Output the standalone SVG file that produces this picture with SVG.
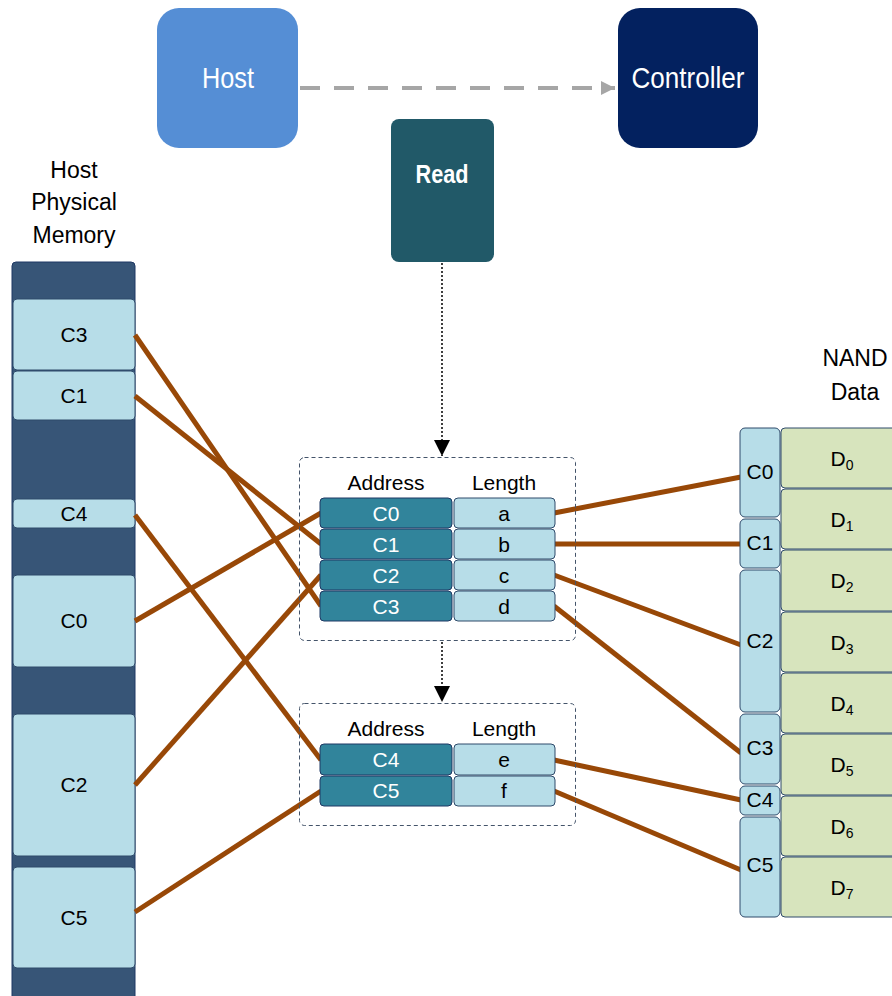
<svg xmlns="http://www.w3.org/2000/svg" width="892" height="996" viewBox="0 0 892 996">
<defs>
<style>
.t{font-family:"Liberation Sans",Arial,sans-serif;font-size:21px;fill:#000;text-anchor:middle}
.tw{fill:#fff}
.n{font-family:"Liberation Sans",Arial,sans-serif;text-anchor:middle;fill:#fff}
.cell{fill:#B7DDE8;stroke:#2E4A6B;stroke-width:1}
.addr{fill:#31849B;stroke:#1F3864;stroke-width:1}
.dat{fill:#D7E4BD;stroke:#2E4A6B;stroke-width:1}
.lnk{stroke:#984807;stroke-width:5;fill:none}
.dbox{fill:none;stroke:#44546A;stroke-width:1;stroke-dasharray:4,3}
.dot{stroke:#000;stroke-width:1.5;stroke-dasharray:2,2;fill:none}
.lbl{font-size:23px}
.sub{font-size:14px}
</style>
<marker id="ah" viewBox="0 0 10 10" refX="10" refY="5" markerWidth="18" markerHeight="16" markerUnits="userSpaceOnUse" orient="auto"><path d="M0,0 L10,5 L0,10 Z" fill="#000"/></marker>
<marker id="ag" viewBox="0 0 10 10" refX="10" refY="5" markerWidth="16" markerHeight="14" markerUnits="userSpaceOnUse" orient="auto"><path d="M0,0 L10,5 L0,10 Z" fill="#A6A6A6"/></marker>
</defs>

<g id="host"><rect x="157" y="8" width="141" height="140" rx="22" fill="#558ED5"/><text class="n" x="228" y="88" font-size="29" textLength="52" lengthAdjust="spacingAndGlyphs">Host</text></g>
<g id="controller"><rect x="618" y="8" width="140" height="140" rx="22" fill="#03215F"/><text class="n" x="688" y="88" font-size="29" textLength="113" lengthAdjust="spacingAndGlyphs">Controller</text></g>
<g id="read"><rect x="391" y="119" width="103" height="143" rx="8" fill="#215968"/><text class="n" x="442" y="183" font-size="25" font-weight="bold" textLength="53" lengthAdjust="spacingAndGlyphs">Read</text></g>

<g id="hpm-label"><text class="t lbl" x="74" y="178">Host</text><text class="t lbl" x="74" y="210">Physical</text><text class="t lbl" x="74" y="243">Memory</text></g>

<g id="memory">
<rect x="12" y="262" width="123" height="740" rx="4" fill="#375577" stroke="#1F3864" stroke-width="1"/>
<g id="m-c3"><rect class="cell" x="13" y="299" width="122" height="71" rx="4"/><text class="t" x="74" y="342">C3</text></g>
<g id="m-c1"><rect class="cell" x="13" y="371" width="122" height="49" rx="4"/><text class="t" x="74" y="403">C1</text></g>
<g id="m-c4"><rect class="cell" x="13" y="499" width="122" height="29" rx="4"/><text class="t" x="74" y="521">C4</text></g>
<g id="m-c0"><rect class="cell" x="13" y="575" width="122" height="92" rx="4"/><text class="t" x="74" y="628">C0</text></g>
<g id="m-c2"><rect class="cell" x="13" y="714" width="122" height="142" rx="4"/><text class="t" x="74" y="792">C2</text></g>
<g id="m-c5"><rect class="cell" x="13" y="867" width="122" height="101" rx="4"/><text class="t" x="74" y="925">C5</text></g>
</g>

<g id="nand-label"><text class="t lbl" x="855" y="366">NAND</text><text class="t lbl" x="855" y="400">Data</text></g>

<g id="connectors">
<line x1="300" y1="88" x2="615" y2="88" stroke="#A6A6A6" stroke-width="4" stroke-dasharray="20,14" marker-end="url(#ag)"/>
<line class="dot" x1="442" y1="263" x2="442" y2="456" marker-end="url(#ah)"/>
<line class="dot" x1="442" y1="642" x2="442" y2="702" marker-end="url(#ah)"/>
<line class="lnk" x1="135" y1="335" x2="321" y2="606"/>
<line class="lnk" x1="135" y1="396" x2="321" y2="544"/>
<line class="lnk" x1="135" y1="515" x2="321" y2="760"/>
<line class="lnk" x1="135" y1="621" x2="321" y2="513"/>
<line class="lnk" x1="135" y1="785" x2="321" y2="575"/>
<line class="lnk" x1="135" y1="912" x2="321" y2="791"/>
<line class="lnk" x1="554" y1="513" x2="741" y2="477"/>
<line class="lnk" x1="554" y1="544" x2="741" y2="544"/>
<line class="lnk" x1="554" y1="575" x2="741" y2="645"/>
<line class="lnk" x1="554" y1="606" x2="741" y2="753"/>
<line class="lnk" x1="554" y1="760" x2="741" y2="800"/>
<line class="lnk" x1="554" y1="791" x2="741" y2="870"/>
</g>

<g id="table1">
<rect class="dbox" x="299.5" y="457.5" width="276" height="183" rx="5"/>
<text class="t" x="386" y="490" font-size="19">Address</text><text class="t" x="504" y="490" font-size="19">Length</text>
<rect class="addr" x="320" y="498" width="132" height="30" rx="4"/><text class="t tw" x="386" y="521">C0</text>
<rect class="cell" x="454" y="498" width="101" height="30" rx="4"/><text class="t" x="504" y="521">a</text>
<rect class="addr" x="320" y="529" width="132" height="30" rx="4"/><text class="t tw" x="386" y="552">C1</text>
<rect class="cell" x="454" y="529" width="101" height="30" rx="4"/><text class="t" x="504" y="552">b</text>
<rect class="addr" x="320" y="560" width="132" height="30" rx="4"/><text class="t tw" x="386" y="583">C2</text>
<rect class="cell" x="454" y="560" width="101" height="30" rx="4"/><text class="t" x="504" y="583">c</text>
<rect class="addr" x="320" y="591" width="132" height="30" rx="4"/><text class="t tw" x="386" y="614">C3</text>
<rect class="cell" x="454" y="591" width="101" height="30" rx="4"/><text class="t" x="504" y="614">d</text>
</g>

<g id="table2">
<rect class="dbox" x="299.5" y="703.5" width="276" height="122" rx="5"/>
<text class="t" x="386" y="736" font-size="19">Address</text><text class="t" x="504" y="736" font-size="19">Length</text>
<rect class="addr" x="320" y="744" width="132" height="31" rx="4"/><text class="t tw" x="386" y="767">C4</text>
<rect class="cell" x="454" y="744" width="101" height="31" rx="4"/><text class="t" x="504" y="767">e</text>
<rect class="addr" x="320" y="776" width="132" height="30" rx="4"/><text class="t tw" x="386" y="798">C5</text>
<rect class="cell" x="454" y="776" width="101" height="30" rx="4"/><text class="t" x="504" y="798">f</text>
</g>

<g id="nand">
<g id="n-c0"><rect class="cell" x="740" y="428" width="40" height="89" rx="5"/><text class="t" x="760" y="479" font-size="17">C0</text></g>
<g id="n-c1"><rect class="cell" x="740" y="519" width="40" height="49" rx="5"/><text class="t" x="760" y="550" font-size="17">C1</text></g>
<g id="n-c2"><rect class="cell" x="740" y="570" width="40" height="142" rx="5"/><text class="t" x="760" y="648" font-size="17">C2</text></g>
<g id="n-c3"><rect class="cell" x="740" y="714" width="40" height="70" rx="5"/><text class="t" x="760" y="755" font-size="17">C3</text></g>
<g id="n-c4"><rect class="cell" x="740" y="786" width="40" height="29" rx="5"/><text class="t" x="760" y="807" font-size="17">C4</text></g>
<g id="n-c5"><rect class="cell" x="740" y="817" width="40" height="100" rx="5"/><text class="t" x="760" y="872" font-size="17">C5</text></g>
<g id="d0"><rect class="dat" x="781" y="428" width="116" height="60" rx="4"/><text class="t" x="842" y="466">D<tspan class="sub" dy="4">0</tspan></text></g>
<g id="d1"><rect class="dat" x="781" y="489" width="116" height="60" rx="4"/><text class="t" x="842" y="527">D<tspan class="sub" dy="4">1</tspan></text></g>
<g id="d2"><rect class="dat" x="781" y="550" width="116" height="61" rx="4"/><text class="t" x="842" y="588">D<tspan class="sub" dy="4">2</tspan></text></g>
<g id="d3"><rect class="dat" x="781" y="612" width="116" height="60" rx="4"/><text class="t" x="842" y="650">D<tspan class="sub" dy="4">3</tspan></text></g>
<g id="d4"><rect class="dat" x="781" y="673" width="116" height="60" rx="4"/><text class="t" x="842" y="711">D<tspan class="sub" dy="4">4</tspan></text></g>
<g id="d5"><rect class="dat" x="781" y="734" width="116" height="61" rx="4"/><text class="t" x="842" y="772">D<tspan class="sub" dy="4">5</tspan></text></g>
<g id="d6"><rect class="dat" x="781" y="796" width="116" height="60" rx="4"/><text class="t" x="842" y="834">D<tspan class="sub" dy="4">6</tspan></text></g>
<g id="d7"><rect class="dat" x="781" y="857" width="116" height="60" rx="4"/><text class="t" x="842" y="895">D<tspan class="sub" dy="4">7</tspan></text></g>
</g>
</svg>
